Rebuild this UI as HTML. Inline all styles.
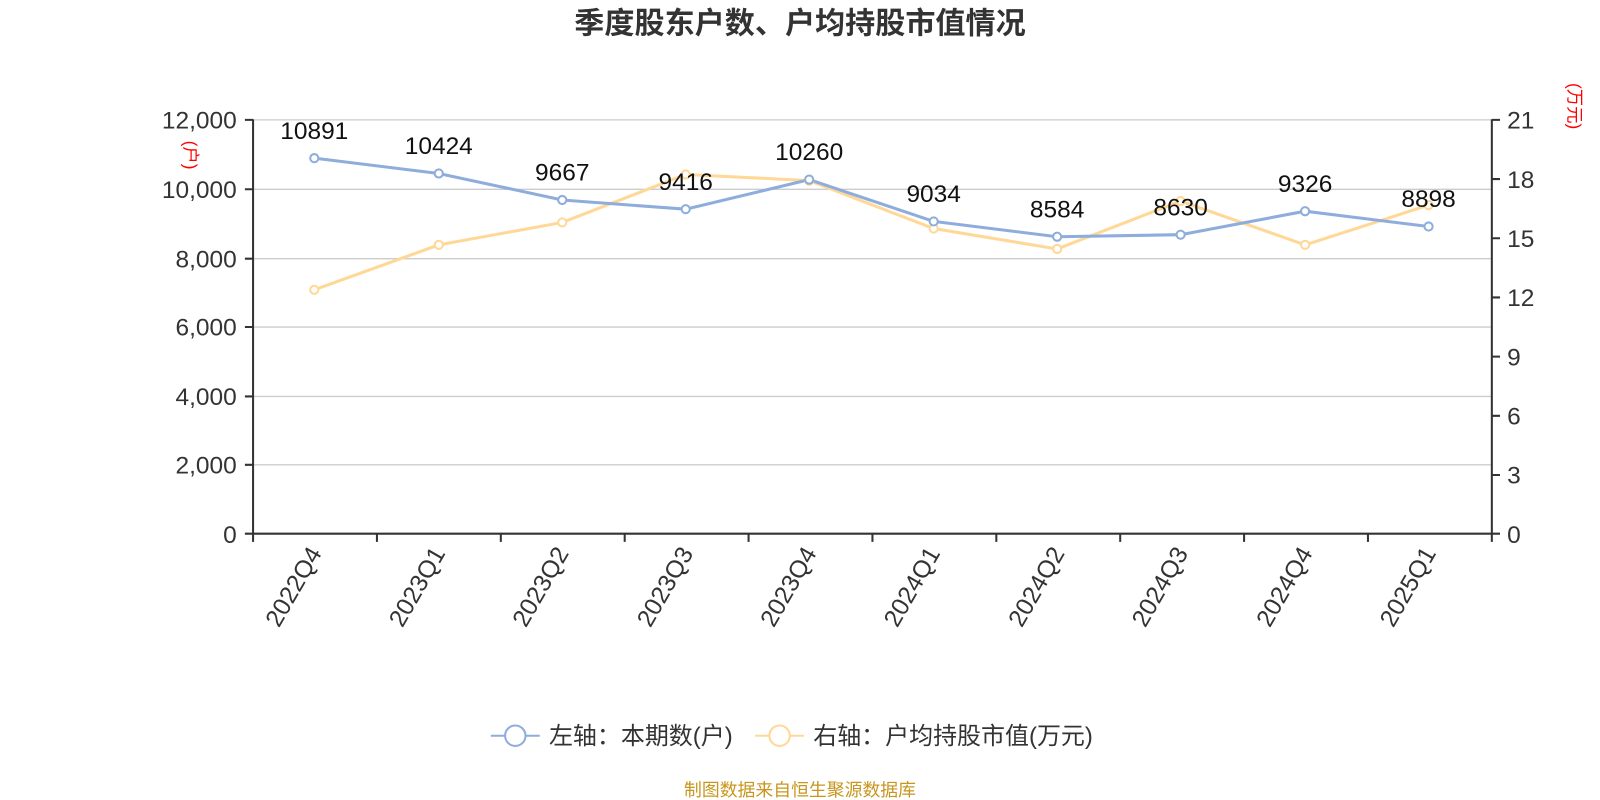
<!DOCTYPE html>
<html><head><meta charset="utf-8"><style>body{margin:0;background:#fff}svg{display:block}text{font-family:"Liberation Sans","Noto Sans CJK SC",sans-serif}</style></head><body>
<svg width="1600" height="800" viewBox="0 0 1568 784" xmlns="http://www.w3.org/2000/svg">
<text x="784" y="33" text-anchor="middle" font-size="29.5" font-weight="bold" fill="#333">季度股东户数、户均持股市值情况</text>
<g stroke="#ccc" stroke-width="1.3">
<line x1="248" x2="1462" y1="117.5" y2="117.5"/><line x1="248" x2="1462" y1="185.5" y2="185.5"/><line x1="248" x2="1462" y1="253.5" y2="253.5"/><line x1="248" x2="1462" y1="320.5" y2="320.5"/><line x1="248" x2="1462" y1="388.5" y2="388.5"/><line x1="248" x2="1462" y1="455.5" y2="455.5"/>
</g>
<g stroke="#333" stroke-width="2">
<line x1="248" x2="248" y1="117" y2="523"/><line x1="1462" x2="1462" y1="117" y2="523"/><line x1="248" x2="1462" y1="523" y2="523"/>
<path d="M240 117.5H248M240 185.5H248M240 253.5H248M240 320.5H248M240 388.5H248M240 455.5H248M240 523H248"/>
<path d="M1462 117.5H1470M1462 175.5H1470M1462 233.5H1470M1462 291.5H1470M1462 349.5H1470M1462 407.5H1470M1462 465.5H1470M1462 523H1470"/>
<path d="M248 523V531M369.4 523V531M490.8 523V531M612.2 523V531M733.6 523V531M855 523V531M976.4 523V531M1097.8 523V531M1219.2 523V531M1340.6 523V531M1462 523V531"/>
</g>
<g font-size="24" fill="#333" text-anchor="end">
<text x="232" y="126">12,000</text><text x="232" y="194">10,000</text><text x="232" y="262">8,000</text><text x="232" y="329">6,000</text><text x="232" y="397">4,000</text><text x="232" y="464">2,000</text><text x="232" y="532">0</text>
</g>
<g font-size="24" fill="#333">
<text x="1477" y="126">21</text><text x="1477" y="184">18</text><text x="1477" y="242">15</text><text x="1477" y="300">12</text><text x="1477" y="358">9</text><text x="1477" y="416">6</text><text x="1477" y="474">3</text><text x="1477" y="532">0</text>
</g>
<text transform="translate(181,152) rotate(90)" text-anchor="middle" font-size="17" fill="red">(户)</text>
<text transform="translate(1537,104) rotate(90)" text-anchor="middle" font-size="17" fill="red">(万元)</text>
<g font-size="24" fill="#333" text-anchor="end">
<text transform="translate(316,542) rotate(-60)">2022Q4</text>
<text transform="translate(437,542) rotate(-60)">2023Q1</text>
<text transform="translate(558,542) rotate(-60)">2023Q2</text>
<text transform="translate(680,542) rotate(-60)">2023Q3</text>
<text transform="translate(801,542) rotate(-60)">2023Q4</text>
<text transform="translate(922,542) rotate(-60)">2024Q1</text>
<text transform="translate(1044,542) rotate(-60)">2024Q2</text>
<text transform="translate(1165,542) rotate(-60)">2024Q3</text>
<text transform="translate(1287,542) rotate(-60)">2024Q4</text>
<text transform="translate(1408,542) rotate(-60)">2025Q1</text>
</g>
<polyline fill="none" stroke="#ffd898" stroke-width="3" points="308,284 430,240 551,218 672,171 793,177 915,224 1036,244 1157,197 1279,240 1400,201"/>
<polyline fill="none" stroke="#8eaddc" stroke-width="3" points="308,155 430,170 551,196 672,205 793,176 915,217 1036,232 1157,230 1279,207 1400,222"/>
<g fill="#fff" stroke="#ffd898" stroke-width="2">
<circle cx="308" cy="284" r="4"/><circle cx="430" cy="240" r="4"/><circle cx="551" cy="218" r="4"/><circle cx="672" cy="171" r="4"/><circle cx="793" cy="177" r="4"/><circle cx="915" cy="224" r="4"/><circle cx="1036" cy="244" r="4"/><circle cx="1157" cy="197" r="4"/><circle cx="1279" cy="240" r="4"/><circle cx="1400" cy="201" r="4"/>
</g>
<g fill="#fff" stroke="#8eaddc" stroke-width="2">
<circle cx="308" cy="155" r="4"/><circle cx="430" cy="170" r="4"/><circle cx="551" cy="196" r="4"/><circle cx="672" cy="205" r="4"/><circle cx="793" cy="176" r="4"/><circle cx="915" cy="217" r="4"/><circle cx="1036" cy="232" r="4"/><circle cx="1157" cy="230" r="4"/><circle cx="1279" cy="207" r="4"/><circle cx="1400" cy="222" r="4"/>
</g>
<g font-size="24" fill="#111" text-anchor="middle">
<text x="308" y="136">10891</text><text x="430" y="151">10424</text><text x="551" y="177">9667</text><text x="672" y="186">9416</text><text x="793" y="157">10260</text><text x="915" y="198">9034</text><text x="1036" y="213">8584</text><text x="1157" y="211">8630</text><text x="1279" y="188">9326</text><text x="1400" y="203">8898</text>
</g>
<line x1="481" x2="529" y1="721" y2="721" stroke="#8eaddc" stroke-width="2"/><circle cx="505" cy="721" r="10" fill="#fff" stroke="#8eaddc" stroke-width="2"/>
<text x="538" y="729" font-size="23.5" fill="#333">左轴：本期数(户)</text>
<line x1="740" x2="788" y1="721" y2="721" stroke="#ffd898" stroke-width="2"/><circle cx="764" cy="721" r="10" fill="#fff" stroke="#ffd898" stroke-width="2"/>
<text x="797" y="729" font-size="23.5" fill="#333">右轴：户均持股市值(万元)</text>
<text x="784" y="780" text-anchor="middle" font-size="17.5" fill="#c8961e">制图数据来自恒生聚源数据库</text>
</svg>
</body></html>
